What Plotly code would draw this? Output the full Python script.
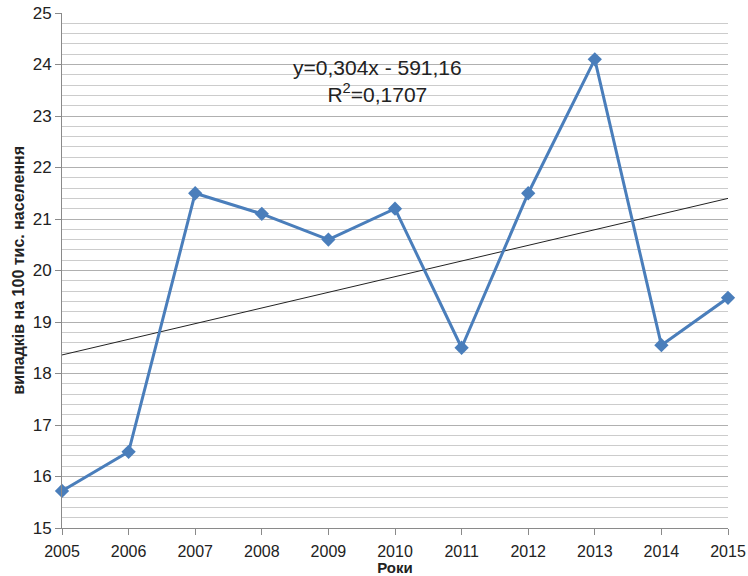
import plotly.graph_objects as go

years = [2005, 2006, 2007, 2008, 2009, 2010, 2011, 2012, 2013, 2014, 2015]
values = [15.72, 16.48, 21.5, 21.1, 20.6, 21.2, 18.5, 21.5, 24.1, 18.55, 19.47]
trend_slope = 0.304
trend_intercept = -591.16
trend_label = "y=0,304x - 591,16<br>R<sup>2</sup>=0,1707"
x_title = "Роки"
y_title = "випадків на 100 тис. населення"

trend_x = [years[0], years[-1]]
trend_y = [trend_slope * x + trend_intercept for x in trend_x]

fig = go.Figure()
fig.add_trace(go.Scatter(
    x=trend_x, y=trend_y, mode="lines",
    line=dict(color="#222222", width=1), showlegend=False, hoverinfo="skip"))
fig.add_trace(go.Scatter(
    x=years, y=values, mode="lines+markers",
    line=dict(color="#4a7ebb", width=3),
    marker=dict(symbol="diamond", size=11, color="#4a7ebb"),
    cliponaxis=False, showlegend=False))

fig.add_annotation(
    x=0.473, y=0.868, xref="paper", yref="paper", text=trend_label,
    xanchor="center", yanchor="middle",
    showarrow=False, font=dict(family="Liberation Sans, Arial", size=21, color="#222222"),
    align="center")

fig.add_annotation(
    x=-0.066, y=0.5, xref="paper", yref="paper", text="<b>" + y_title + "</b>",
    textangle=-90, xanchor="center", yanchor="middle", showarrow=False,
    font=dict(family="Liberation Sans, Arial", size=16, color="#222222"))

fig.update_layout(
    width=748, height=576,
    margin=dict(l=62, r=20, t=13, b=48),
    plot_bgcolor="white", paper_bgcolor="white",
    font=dict(family="Liberation Sans, Arial", color="#222222"),
)
fig.update_xaxes(
    range=[2005, 2015], tickmode="array", tickvals=years,
    ticktext=[str(y) for y in years], automargin=False, ticklabeloverflow="allow",
    showgrid=False, showline=True, linecolor="#8a8a8a", linewidth=1,
    ticks="outside", ticklen=6, tickcolor="#8a8a8a", ticklabelstandoff=3,
    tickfont=dict(size=16), zeroline=False,
    title=dict(text="<b>" + x_title + "</b>", font=dict(size=15), standoff=0),
)
fig.update_yaxes(
    range=[15, 25], dtick=1, tick0=15, automargin=False, ticklabeloverflow="allow",
    showgrid=True, gridcolor="#b0b0b0", gridwidth=1,
    minor=dict(dtick=0.2, showgrid=True, gridcolor="#cccccc", gridwidth=1),
    showline=True, linecolor="#8a8a8a", linewidth=1,
    ticks="outside", ticklen=6, tickcolor="#8a8a8a",
    tickfont=dict(size=17), zeroline=False,
)

fig.write_html("out.html", config={"displayModeBar": False},
               post_script="document.body.style.margin='0';")
